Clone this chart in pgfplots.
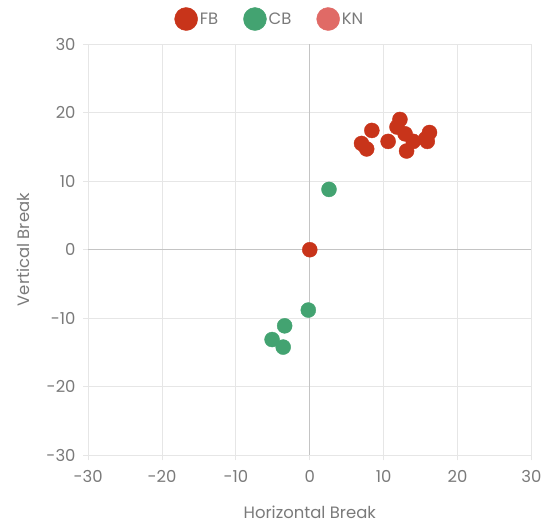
\documentclass[border=0pt]{standalone}
\usepackage{pgfplots}
\pgfplotsset{compat=1.18}
\usepackage{fontspec}
\setmainfont{Poppins}
\definecolor{fb}{HTML}{C8341A}
\definecolor{cb}{HTML}{43A371}
\definecolor{kn}{HTML}{E06A66}
\definecolor{gridc}{HTML}{E6E6E6}
\definecolor{zeroc}{HTML}{C4C4C4}
\definecolor{txt}{HTML}{7A7A7A}
\begin{document}
\begin{tikzpicture}
\begin{axis}[
  scale only axis, width=443bp, height=411bp,
  xmin=-30, xmax=30, ymin=-30, ymax=30,
  xtick={-30,-20,...,30}, ytick={-30,-20,...,30},
  xticklabels={-30,-20,-10,0,10,20,30},
  yticklabels={-30,-20,-10,0,10,20,30},
  grid=major, major grid style={draw=gridc, line width=0.8pt},
  axis line style={draw=gridc, line width=0.8pt},
  tick style={draw=gridc, line width=0.8pt},
  tick align=outside, major tick length=5bp,
  xtick pos=bottom, ytick pos=left,
  ticklabel style={font=\fontsize{16.5}{18}\selectfont, text=txt},
  xticklabel style={yshift=-6bp},
  yticklabel style={xshift=-4bp},
  xlabel={Horizontal Break}, ylabel={Vertical Break},
  label style={font=\fontsize{16.5}{18}\selectfont, text=txt},
  xlabel style={yshift=-17bp},
  ylabel style={yshift=10bp},
  legend columns=3,
  legend style={at={(0.41,1)}, anchor=center, yshift=25bp, draw=none, fill=none,
    font=\fontsize{16.5}{18}\selectfont, text=txt,
    /tikz/every even column/.append style={column sep=23bp}},
  legend cell align=left,
]
\draw[zeroc, line width=0.9pt] (axis cs:0,-30) -- (axis cs:0,30);
\draw[zeroc, line width=0.9pt] (axis cs:-30,0) -- (axis cs:30,0);
\addplot[only marks, mark=*, mark size=7.5bp, fb, mark options={draw=none, fill=fb},
  legend image code/.code={\fill[fb] (0,0) circle (11.5bp);}] coordinates {
(0,0) (8.4,17.4) (7.0,15.5) (7.7,14.7) (10.6,15.8) (12.2,19.0) (11.8,17.9)
(12.9,16.9) (13.1,14.4) (14.0,15.8) (15.7,16.2) (16.2,17.1) (15.9,15.8)
};
\addlegendentry{FB}
\addplot[only marks, mark=*, mark size=7.5bp, cb, mark options={draw=none, fill=cb},
  legend image code/.code={\fill[cb] (0,0) circle (11.5bp);}] coordinates {
(2.6,8.8) (-0.2,-8.8) (-3.4,-11.1) (-5.1,-13.1) (-3.6,-14.2)
};
\addlegendentry{CB}
\addlegendimage{legend image code/.code={\fill[kn] (0,0) circle (11.5bp);}}
\addlegendentry{KN}
\end{axis}
\pgfresetboundingbox
\path[use as bounding box] ([xshift=-88bp,yshift=-70bp]current axis.south west) rectangle ([xshift=23.5bp,yshift=44bp]current axis.north east);
\end{tikzpicture}
\end{document}
